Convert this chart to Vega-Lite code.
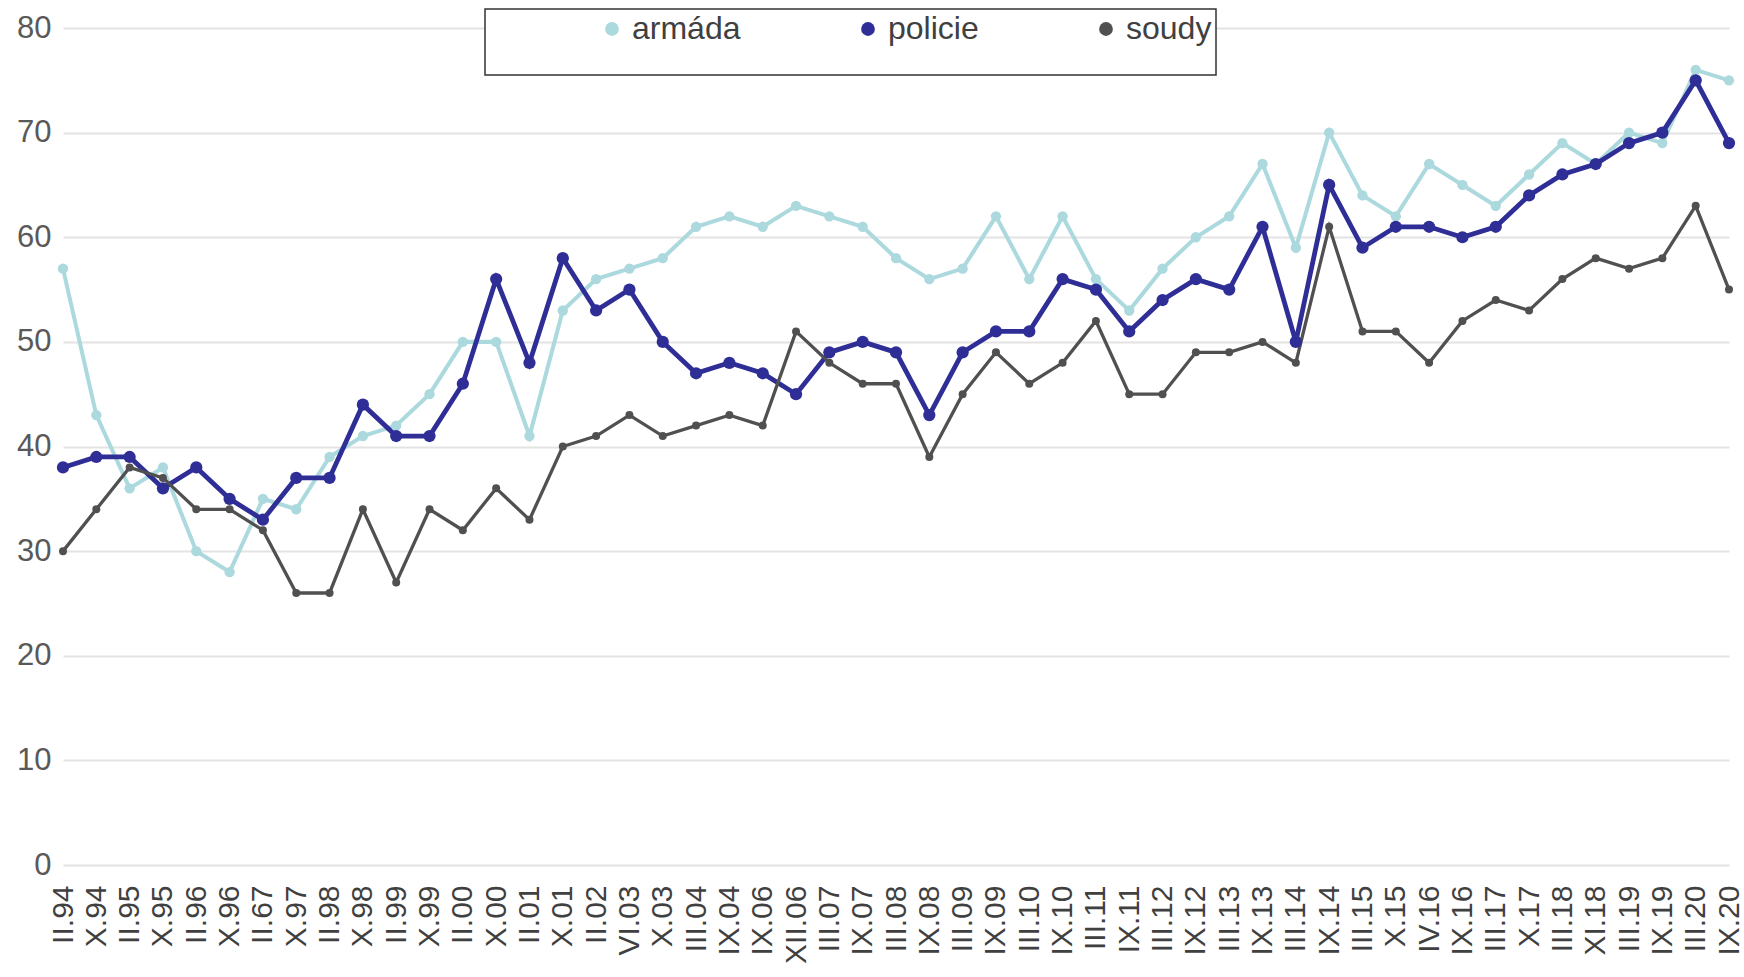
{
  "$schema": "https://vega.github.io/schema/vega-lite/v6.json",
  "width": 1666,
  "height": 837,
  "autosize": {"type": "none"},
  "padding": {"left": 63, "top": 28, "right": 15, "bottom": 112},
  "background": "white",
  "config": {"view": {"stroke": null}, "font": "Liberation Sans"},
  "data": {"values": [
    {"d":"II.94","s":"armáda","v":57},{"d":"X.94","s":"armáda","v":43},{"d":"II.95","s":"armáda","v":36},{"d":"X.95","s":"armáda","v":38},{"d":"II.96","s":"armáda","v":30},{"d":"X.96","s":"armáda","v":28},{"d":"II.67","s":"armáda","v":35},{"d":"X.97","s":"armáda","v":34},{"d":"II.98","s":"armáda","v":39},{"d":"X.98","s":"armáda","v":41},
    {"d":"II.99","s":"armáda","v":42},{"d":"X.99","s":"armáda","v":45},{"d":"II.00","s":"armáda","v":50},{"d":"X.00","s":"armáda","v":50},{"d":"II.01","s":"armáda","v":41},{"d":"X.01","s":"armáda","v":53},{"d":"II.02","s":"armáda","v":56},{"d":"VI.03","s":"armáda","v":57},{"d":"X.03","s":"armáda","v":58},{"d":"III.04","s":"armáda","v":61},
    {"d":"IX.04","s":"armáda","v":62},{"d":"IX.06","s":"armáda","v":61},{"d":"XII.06","s":"armáda","v":63},{"d":"III.07","s":"armáda","v":62},{"d":"IX.07","s":"armáda","v":61},{"d":"III.08","s":"armáda","v":58},{"d":"IX.08","s":"armáda","v":56},{"d":"III.09","s":"armáda","v":57},{"d":"IX.09","s":"armáda","v":62},{"d":"III.10","s":"armáda","v":56},
    {"d":"IX.10","s":"armáda","v":62},{"d":"III.11","s":"armáda","v":56},{"d":"IX.11","s":"armáda","v":53},{"d":"III.12","s":"armáda","v":57},{"d":"IX.12","s":"armáda","v":60},{"d":"III.13","s":"armáda","v":62},{"d":"IX.13","s":"armáda","v":67},{"d":"III.14","s":"armáda","v":59},{"d":"IX.14","s":"armáda","v":70},{"d":"III.15","s":"armáda","v":64},
    {"d":"X.15","s":"armáda","v":62},{"d":"IV.16","s":"armáda","v":67},{"d":"IX.16","s":"armáda","v":65},{"d":"III.17","s":"armáda","v":63},{"d":"X.17","s":"armáda","v":66},{"d":"III.18","s":"armáda","v":69},{"d":"XI.18","s":"armáda","v":67},{"d":"III.19","s":"armáda","v":70},{"d":"IX.19","s":"armáda","v":69},{"d":"III.20","s":"armáda","v":76},
    {"d":"IX.20","s":"armáda","v":75},
    {"d":"II.94","s":"policie","v":38},{"d":"X.94","s":"policie","v":39},{"d":"II.95","s":"policie","v":39},{"d":"X.95","s":"policie","v":36},{"d":"II.96","s":"policie","v":38},{"d":"X.96","s":"policie","v":35},{"d":"II.67","s":"policie","v":33},{"d":"X.97","s":"policie","v":37},{"d":"II.98","s":"policie","v":37},{"d":"X.98","s":"policie","v":44},
    {"d":"II.99","s":"policie","v":41},{"d":"X.99","s":"policie","v":41},{"d":"II.00","s":"policie","v":46},{"d":"X.00","s":"policie","v":56},{"d":"II.01","s":"policie","v":48},{"d":"X.01","s":"policie","v":58},{"d":"II.02","s":"policie","v":53},{"d":"VI.03","s":"policie","v":55},{"d":"X.03","s":"policie","v":50},{"d":"III.04","s":"policie","v":47},
    {"d":"IX.04","s":"policie","v":48},{"d":"IX.06","s":"policie","v":47},{"d":"XII.06","s":"policie","v":45},{"d":"III.07","s":"policie","v":49},{"d":"IX.07","s":"policie","v":50},{"d":"III.08","s":"policie","v":49},{"d":"IX.08","s":"policie","v":43},{"d":"III.09","s":"policie","v":49},{"d":"IX.09","s":"policie","v":51},{"d":"III.10","s":"policie","v":51},
    {"d":"IX.10","s":"policie","v":56},{"d":"III.11","s":"policie","v":55},{"d":"IX.11","s":"policie","v":51},{"d":"III.12","s":"policie","v":54},{"d":"IX.12","s":"policie","v":56},{"d":"III.13","s":"policie","v":55},{"d":"IX.13","s":"policie","v":61},{"d":"III.14","s":"policie","v":50},{"d":"IX.14","s":"policie","v":65},{"d":"III.15","s":"policie","v":59},
    {"d":"X.15","s":"policie","v":61},{"d":"IV.16","s":"policie","v":61},{"d":"IX.16","s":"policie","v":60},{"d":"III.17","s":"policie","v":61},{"d":"X.17","s":"policie","v":64},{"d":"III.18","s":"policie","v":66},{"d":"XI.18","s":"policie","v":67},{"d":"III.19","s":"policie","v":69},{"d":"IX.19","s":"policie","v":70},{"d":"III.20","s":"policie","v":75},
    {"d":"IX.20","s":"policie","v":69},
    {"d":"II.94","s":"soudy","v":30},{"d":"X.94","s":"soudy","v":34},{"d":"II.95","s":"soudy","v":38},{"d":"X.95","s":"soudy","v":37},{"d":"II.96","s":"soudy","v":34},{"d":"X.96","s":"soudy","v":34},{"d":"II.67","s":"soudy","v":32},{"d":"X.97","s":"soudy","v":26},{"d":"II.98","s":"soudy","v":26},{"d":"X.98","s":"soudy","v":34},
    {"d":"II.99","s":"soudy","v":27},{"d":"X.99","s":"soudy","v":34},{"d":"II.00","s":"soudy","v":32},{"d":"X.00","s":"soudy","v":36},{"d":"II.01","s":"soudy","v":33},{"d":"X.01","s":"soudy","v":40},{"d":"II.02","s":"soudy","v":41},{"d":"VI.03","s":"soudy","v":43},{"d":"X.03","s":"soudy","v":41},{"d":"III.04","s":"soudy","v":42},
    {"d":"IX.04","s":"soudy","v":43},{"d":"IX.06","s":"soudy","v":42},{"d":"XII.06","s":"soudy","v":51},{"d":"III.07","s":"soudy","v":48},{"d":"IX.07","s":"soudy","v":46},{"d":"III.08","s":"soudy","v":46},{"d":"IX.08","s":"soudy","v":39},{"d":"III.09","s":"soudy","v":45},{"d":"IX.09","s":"soudy","v":49},{"d":"III.10","s":"soudy","v":46},
    {"d":"IX.10","s":"soudy","v":48},{"d":"III.11","s":"soudy","v":52},{"d":"IX.11","s":"soudy","v":45},{"d":"III.12","s":"soudy","v":45},{"d":"IX.12","s":"soudy","v":49},{"d":"III.13","s":"soudy","v":49},{"d":"IX.13","s":"soudy","v":50},{"d":"III.14","s":"soudy","v":48},{"d":"IX.14","s":"soudy","v":61},{"d":"III.15","s":"soudy","v":51},
    {"d":"X.15","s":"soudy","v":51},{"d":"IV.16","s":"soudy","v":48},{"d":"IX.16","s":"soudy","v":52},{"d":"III.17","s":"soudy","v":54},{"d":"X.17","s":"soudy","v":53},{"d":"III.18","s":"soudy","v":56},{"d":"XI.18","s":"soudy","v":58},{"d":"III.19","s":"soudy","v":57},{"d":"IX.19","s":"soudy","v":58},{"d":"III.20","s":"soudy","v":63},
    {"d":"IX.20","s":"soudy","v":55}
  ]},
  "encoding": {
    "x": {"field": "d", "type": "ordinal", "sort": null,
      "scale": {"type": "point", "padding": 0},
      "axis": {"title": null, "labelAngle": -90, "labelAlign": "right", "labelBaseline": "middle", "labelFontSize": 30, "labelColor": "#404040", "labelPadding": 20, "ticks": false, "domain": false, "grid": false, "labelOverlap": false}},
    "y": {"field": "v", "type": "quantitative",
      "scale": {"domain": [0, 80], "nice": false},
      "axis": {"title": null, "values": [0, 10, 20, 30, 40, 50, 60, 70, 80], "labelFontSize": 31, "labelColor": "#595959", "labelPadding": 12, "ticks": false, "domain": false, "gridColor": "#e3e3e3", "gridWidth": 2}},
    "color": {"field": "s", "type": "nominal",
      "scale": {"domain": ["armáda", "policie", "soudy"], "range": ["#acd9dd", "#2e2e96", "#505050"]},
      "legend": {"orient": "none", "legendX": 422, "legendY": -19, "direction": "horizontal",
        "title": " ", "titleOrient": "bottom", "titleFontSize": 24, "titlePadding": 2,
        "padding": 4, "fillColor": "white", "strokeColor": "#333333",
        "labelFontSize": 32, "labelColor": "#404040", "labelFont": "Liberation Sans",
        "symbolType": "circle", "symbolSize": 190, "symbolOffset": 107, "labelOffset": 4, "columnPadding": 4,
        "symbolStrokeWidth": 0,
        "encode": {"symbols": {"update": {"fill": {"scale": "color", "field": "value"}}}, "legend": {"update": {"strokeWidth": {"value": 1.5}}}}}}
  },
  "layer": [
    {"mark": {"type": "line"},
     "encoding": {"strokeWidth": {"field": "s", "type": "nominal", "scale": {"type": "point", "domain": ["soudy", "armáda", "policie"], "range": [3.3, 4.8]}, "legend": null}}},
    {"mark": {"type": "point", "filled": true, "opacity": 1},
     "encoding": {"size": {"field": "s", "type": "nominal", "scale": {"type": "point", "domain": ["soudy", "armáda", "policie"], "range": [64, 150]}, "legend": null}}}
  ]
}
